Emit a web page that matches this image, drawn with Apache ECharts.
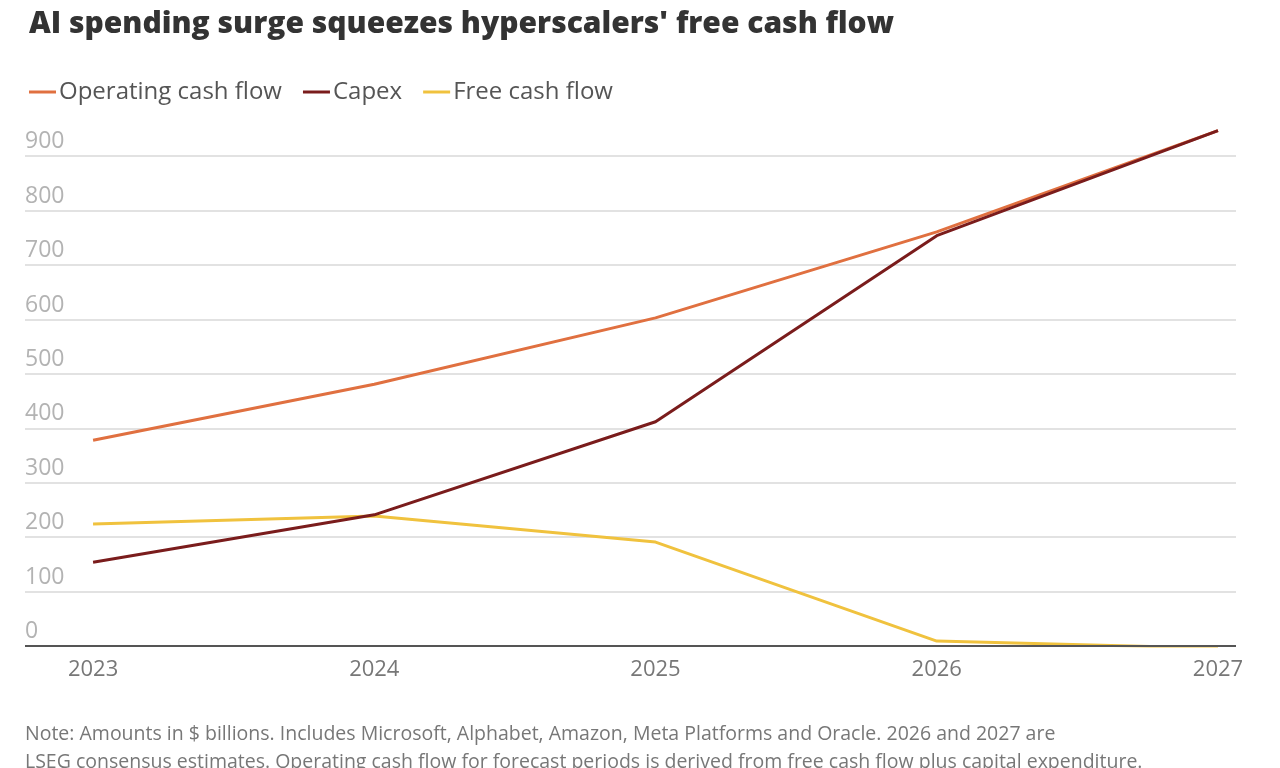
<!DOCTYPE html>
<html>
<head>
<meta charset="utf-8">
<script src="https://cdn.jsdelivr.net/npm/echarts@6/dist/echarts.min.js"></script>
<style>
  html, body { margin: 0; padding: 0; background: #fff; }
  #chart { width: 1280px; height: 768px; }
</style>
</head>
<body>
<div id="chart"></div>
<script>
// Données (milliards de $)
const years = [2023, 2024, 2025, 2026, 2027];
const operatingCashFlow = [378, 481, 603, 761, 947];
const capex = [154, 241, 412, 754, 947];
const freeCashFlow = [224, 239, 191, 9, -4];
const yTicks = [0, 100, 200, 300, 400, 500, 600, 700, 800, 900];

const titleText = "AI spending surge squeezes hyperscalers' free cash flow";
const noteLine1 = 'Note: Amounts in $ billions. Includes Microsoft, Alphabet, Amazon, Meta Platforms and Oracle. 2026 and 2027 are';
const noteLine2 = 'LSEG consensus estimates. Operating cash flow for forecast periods is derived from free cash flow plus capital expenditure.';

function pairs(values) {
    return years.map((y, i) => [y, values[i]]);
}

var chartDom = document.getElementById('chart');
var myChart = echarts.init(chartDom);
var option;

option = {
    backgroundColor: '#ffffff',
    textStyle: { fontFamily: 'Open Sans' },
    title: {
        text: titleText,
        left: 24,
        top: 4,
        textStyle: {
            fontFamily: 'Open Sans',
            fontWeight: 800,
            fontSize: 30,
            color: '#333333'
        }
    },
    legend: {
        left: 24,
        top: 75,
        icon: 'rect',
        itemWidth: 27,
        itemHeight: 3,
        itemGap: 21,
        textStyle: { fontSize: 24, color: '#555555', padding: [0, 0, 0, -2] },
        data: ['Operating cash flow', 'Capex', 'Free cash flow']
    },
    grid: {
        left: 25,
        right: 44,
        top: 129,
        bottom: 122
    },
    xAxis: {
        type: 'value',
        min: 2022.758,
        max: 2027.064,
        axisLine: { show: false },
        axisTick: { show: false },
        splitLine: { show: false },
        axisLabel: {
            customValues: years,
            formatter: v => String(v),
            fontSize: 22,
            color: '#777777',
            margin: 13
        }
    },
    yAxis: {
        type: 'value',
        min: 0,
        max: 950,
        interval: 100,
        axisLine: { show: false },
        axisTick: { show: false },
        splitLine: { showMaxLine: false, lineStyle: { color: '#e2e2e2', width: 2 } },
        axisLabel: {
            inside: true,
            margin: 0,
            verticalAlign: 'bottom',
            showMaxLabel: false,
            padding: [0, 0, 3, 0],
            fontSize: 23,
            color: '#b3b3b3',
            formatter: v => yTicks.includes(v) ? String(v) : ''
        }
    },
    series: [
        {
            name: 'Operating cash flow',
            type: 'line',
            data: pairs(operatingCashFlow),
            symbol: 'none',
            clip: false,
            z: 3,
            lineStyle: { color: '#e07040', width: 3 },
            itemStyle: { color: '#e07040' },
            markLine: {
                silent: true,
                symbol: 'none',
                label: { show: false },
                lineStyle: { color: '#555555', width: 2, type: 'solid' },
                data: [{ yAxis: 0 }]
            }
        },
        {
            name: 'Capex',
            type: 'line',
            data: pairs(capex),
            symbol: 'none',
            clip: false,
            z: 4,
            lineStyle: { color: '#7a1c1c', width: 3 },
            itemStyle: { color: '#7a1c1c' }
        },
        {
            name: 'Free cash flow',
            type: 'line',
            data: pairs(freeCashFlow),
            symbol: 'none',
            clip: false,
            z: 2,
            lineStyle: { color: '#f0c23e', width: 3 },
            itemStyle: { color: '#f0c23e' }
        }
    ],
    graphic: [
        {
            type: 'text',
            left: 25,
            top: 724,
            style: { text: noteLine1, fontSize: 19.5, fill: '#777777', fontFamily: 'Open Sans' }
        },
        {
            type: 'text',
            left: 25,
            top: 752,
            style: { text: noteLine2, fontSize: 19.5, fill: '#777777', fontFamily: 'Open Sans' }
        }
    ]
};

myChart.setOption(option);
</script>
</body>
</html>
